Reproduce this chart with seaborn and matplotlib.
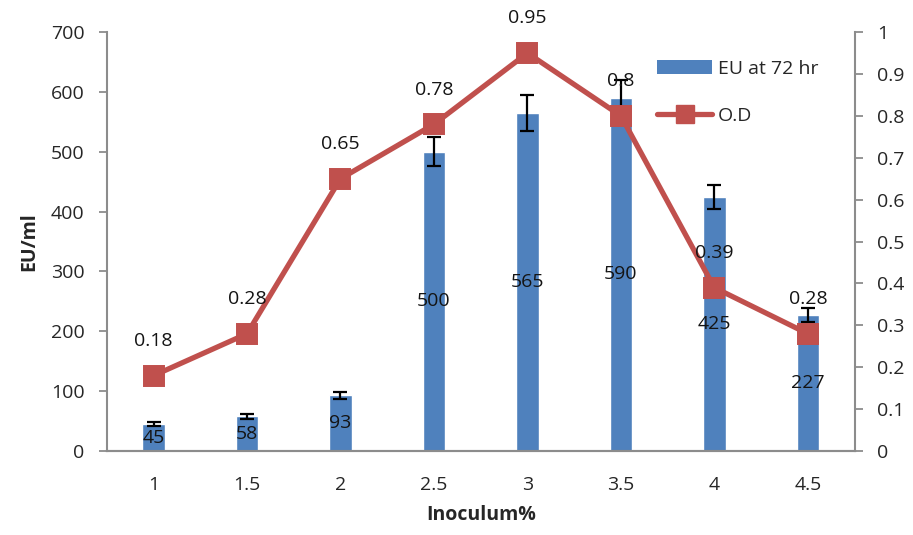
import numpy as np
import pandas as pd
import matplotlib.pyplot as plt
import seaborn as sns
from matplotlib.patches import Patch
from matplotlib.lines import Line2D

sns.set_style("white")
plt.rcParams['font.family'] = ['Open Sans', 'DejaVu Sans']

# data
inoculum = ['1', '1.5', '2', '2.5', '3', '3.5', '4', '4.5']
eu_72hr = [45, 58, 93, 500, 565, 590, 425, 227]
eu_err = [4, 4, 6, 24, 30, 30, 20, 12]
od = [0.18, 0.28, 0.65, 0.78, 0.95, 0.8, 0.39, 0.28]

bar_color = '#4F81BD'
line_color = '#C0504D'
spine_color = '#8c8c8c'
fs = 14

df = pd.DataFrame({'Inoculum': inoculum, 'EU': eu_72hr, 'OD': od})

fig = plt.figure(figsize=(9.13, 5.35), dpi=100)
ax = fig.add_axes([0.117, 0.157, 0.819, 0.783])

sns.barplot(data=df, x='Inoculum', y='EU', color=bar_color, width=0.24,
            saturation=1, errorbar=None, ax=ax)
bars = ax.patches
xc = [p.get_x() + p.get_width() / 2 for p in bars]
ax.errorbar(xc, eu_72hr, yerr=eu_err, fmt='none', ecolor='black',
            elinewidth=1.6, capsize=5, capthick=1.6, zorder=3)
ax.bar_label(ax.containers[0], labels=[str(v) for v in eu_72hr],
             label_type='center', fontsize=fs, color='#141414')

ax.set_ylim(0, 700)
ax.set_yticks(range(0, 701, 100))
ax.set_xlim(-0.5, len(inoculum) - 0.5)
ax.set_ylabel('EU/ml', fontsize=fs, fontweight='bold', labelpad=8)
ax.set_xlabel('Inoculum%', fontsize=fs, fontweight='bold', labelpad=8)

ax2 = ax.twinx()
sns.pointplot(data=df, x='Inoculum', y='OD', color=line_color, markers='s',
              markersize=13, linewidth=3.8, ax=ax2)
ax2.set_ylim(0, 1)
ax2.set_yticks(np.arange(0, 1.01, 0.1))
ax2.set_yticklabels(['0', '0.1', '0.2', '0.3', '0.4', '0.5', '0.6', '0.7',
                     '0.8', '0.9', '1'])
ax2.set_ylabel('')
for x, v in zip(ax2.lines[0].get_xdata(), od):
    ax2.annotate(f'{v:g}', (x, v), xytext=(0, 25), textcoords='offset points',
                 ha='center', va='center', fontsize=fs, color='#141414')

for a in (ax, ax2):
    a.spines['top'].set_visible(False)
    for s in ['left', 'right', 'bottom']:
        a.spines[s].set_color(spine_color)
        a.spines[s].set_linewidth(1.5)
    a.tick_params(axis='y', labelsize=fs, length=6, width=1.3, color=spine_color,
                  pad=10)
    a.tick_params(axis='x', labelsize=fs, length=0, pad=18)
ax.spines['right'].set_visible(False)
ax2.spines['left'].set_visible(False)
ax.tick_params(axis='y', left=True)
ax2.tick_params(axis='y', right=True)

handles = [Patch(facecolor=bar_color, edgecolor='none'),
           Line2D([0], [0], color=line_color, lw=3.8, marker='s', markersize=13)]
ax2.legend(handles, ['EU at 72 hr', 'O.D'], loc='upper left',
           bbox_to_anchor=(0.713, 0.975), frameon=False, fontsize=fs,
           handlelength=2.8, labelspacing=1.5, handletextpad=0.3)

fig.savefig('out.png', dpi=100)
